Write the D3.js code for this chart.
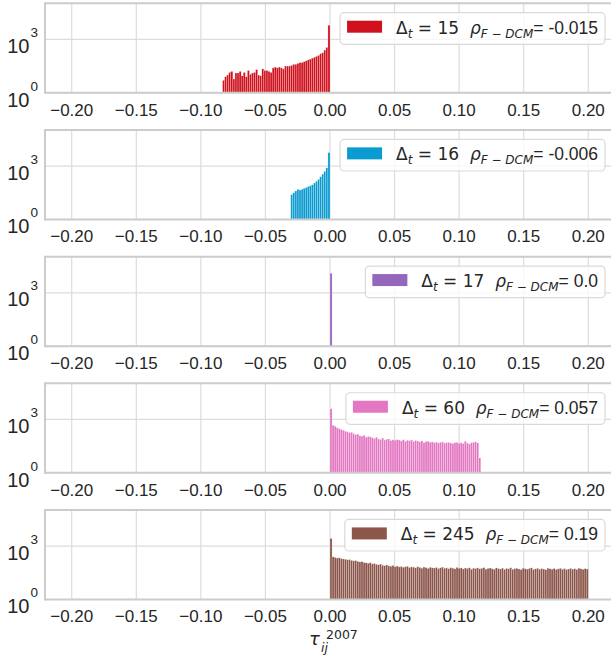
<!DOCTYPE html>
<html><head><meta charset="utf-8">
<script src="https://cdn.jsdelivr.net/npm/d3@7"></script>
<style>
html,body{margin:0;padding:0;background:#fff;}
svg text{white-space:pre;}
</style></head>
<body><svg id="chart" width="611" height="659"></svg>
<script>
// ---- data ----
const binWidth = 0.0016;
const deltaT = [15, 16, 17, 60, 245];
const rhoLabels = ["-0.015", "-0.006", "0.0", "0.057", "0.19"];
const colors = ["#d0121f", "#0a9bd0", "#9467bd", "#e377c2", "#8c564b"];
const firstEdge = [-0.0832, -0.0304, 0.0, 0.0, 0.0];
const counts15 = [5,8,10,14,16,6,13,13,16,9, 14,8,18,11,13,14,20,10,9,22,
  18,18,16,14,25,28,25,28,25,22, 32,32,32,35,40,40,45,50,50,56,
  63,71,79,89,100,112,126,158,178,251, 355,6310];
const counts16 = [25,32,40,50,45,50,56,63,71,79,89,112,141,178,251,355,501,794,5800];
const counts17 = [12600];
const counts60 = [4000,480,420,340,300,270,250,220,200,180, 190,160,140,150,120,115,130,100,110,105,
  95,85,100,80,75,90,70,78,80,65, 72,68,75,70,62,73,60,68,64,70,
  58,66,62,55,63,50,57,60,52,55, 50,53,48,52,55,47,50,52,48,45,
  50,52,46,49,44,60,47,42,50,52, 55,48,7];
const counts245 = [2700,250,230,215,220,200,190,185,170,175, 160,150,155,140,130,135,120,115,110,118,
  100,105,95,90,98,85,80,88,78,75, 82,70,76,68,72,65,70,74,63,68,
  66,60,71,64,58,67,62,56,65,60, 59,63,55,61,66,57,60,54,62,58,
  53,64,57,60,52,59,56,61,50,58, 55,60,53,57,62,51,56,59,54,50,
  60,55,52,58,49,56,53,61,50,55, 57,52,48,58,54,51,56,60,49,53,
  57,50,55,52,47,58,54,51,56,49, 53,57,50,55,48,52,56,51,54,49,
  58,53,50,55,52];
const seriesCounts = [counts15, counts16, counts17, counts60, counts245];
const xTicks = [-0.20, -0.15, -0.10, -0.05, 0.00, 0.05, 0.10, 0.15, 0.20];
const yTicks = [1, 1000];
const yTickExp = ["0", "3"];

// ---- layout ----
const svg = d3.select("#chart");
const sansFont = "'Liberation Sans', Arial, sans-serif";
const mathFont = "'DejaVu Sans', sans-serif";
const x = d3.scaleLinear().domain([-0.2207, 0.2207]).range([45, 615]);
const panelTop0 = 3.3, pitch = 126.68, panelH = 89.5;

seriesCounts.forEach((cnts, i) => {
  const top = panelTop0 + i * pitch, bottom = top + panelH;
  const y = d3.scaleLog().domain([1, Math.pow(10, 5.03)]).range([bottom, top]);
  const g = svg.append("g");

  // grid
  g.selectAll(".gx").data(xTicks).join("line")
    .attr("x1", d => x(d)).attr("x2", d => x(d))
    .attr("y1", top).attr("y2", bottom)
    .attr("stroke", "#dcdcdc").attr("stroke-width", 1.2);
  g.selectAll(".gy").data(yTicks).join("line")
    .attr("x1", x.range()[0]).attr("x2", x.range()[1])
    .attr("y1", d => y(d)).attr("y2", d => y(d))
    .attr("stroke", "#dcdcdc").attr("stroke-width", 1.2);

  // bars
  const bars = cnts.map((c, k) => ({x0: firstEdge[i] + k * binWidth, c}));
  g.selectAll(".bar").data(bars).join("rect")
    .attr("x", d => x(d.x0))
    .attr("width", d => x(d.x0 + binWidth) - x(d.x0))
    .attr("y", d => y(d.c))
    .attr("height", d => bottom - y(d.c))
    .attr("fill", colors[i])
    .attr("stroke", "#ffffff").attr("stroke-width", 0.35).attr("stroke-opacity", 0.7);

  // spines
  const sp = "#cccccc", sw = 2;
  g.append("line").attr("x1", 45).attr("x2", 615).attr("y1", top).attr("y2", top).attr("stroke", sp).attr("stroke-width", sw);
  g.append("line").attr("x1", 45).attr("x2", 615).attr("y1", bottom).attr("y2", bottom).attr("stroke", sp).attr("stroke-width", sw);
  g.append("line").attr("x1", 45).attr("x2", 45).attr("y1", top - 1).attr("y2", bottom + 1).attr("stroke", sp).attr("stroke-width", sw);

  // x tick labels
  g.selectAll(".xt").data(xTicks).join("text")
    .attr("x", d => x(d)).attr("y", bottom + 22.7)
    .attr("text-anchor", "middle")
    .attr("font-family", sansFont).attr("font-size", 17).attr("fill", "#262626")
    .text(d => d3.format(".2f")(d).replace("-", "\u2212"));

  // y tick labels
  yTicks.forEach((t, j) => {
    const tx = g.append("text").attr("x", 38).attr("y", y(t) + 13.7)
      .attr("text-anchor", "end").attr("font-family", sansFont).attr("fill", "#262626");
    tx.append("tspan").attr("font-size", 20).text("10");
    tx.append("tspan").attr("font-size", 13.5).attr("dx", 1).attr("dy", -16).text(yTickExp[j]);
  });

  // legend
  const lg = g.append("g");
  const boxTop = top + 9.4, boxH = 31.6, textEnd = 598, boxRight = 605;
  const box = lg.append("rect").attr("y", boxTop).attr("height", boxH)
    .attr("rx", 4).attr("fill", "#ffffff").attr("fill-opacity", 0.8)
    .attr("stroke", "#d9d9d9").attr("stroke-width", 1.2);
  const patch = lg.append("rect").attr("y", boxTop + 8).attr("height", 12).attr("width", 35)
    .attr("fill", colors[i]);
  const txt = lg.append("text").attr("y", boxTop + 20.8).attr("font-family", mathFont)
    .attr("font-size", 17).attr("fill", "#262626");
  txt.append("tspan").text("\u0394");
  txt.append("tspan").attr("font-style", "italic").attr("font-size", 12).attr("dy", 4).text("t");
  txt.append("tspan").attr("dy", -4).text(" = " + deltaT[i] + "\u00a0\u00a0");
  txt.append("tspan").attr("font-style", "italic").text("\u03c1");
  txt.append("tspan").attr("font-style", "italic").attr("font-size", 12).attr("dy", 4).text("F \u2212 DCM");
  txt.append("tspan").attr("dy", -4).attr("font-family", sansFont).attr("font-size", 17.5).text("= " + rhoLabels[i]);
  const len = txt.node().getComputedTextLength();
  const textStart = textEnd - len;
  txt.attr("x", textStart);
  patch.attr("x", textStart - 49);
  box.attr("x", textStart - 56).attr("width", boxRight - (textStart - 56));
});

// x-axis label
const xl = svg.append("g").attr("font-family", mathFont).attr("fill", "#262626");
xl.append("text").attr("x", 309).attr("y", 645).attr("font-size", 18).attr("font-style", "italic").text("\u03c4");
xl.append("text").attr("x", 321).attr("y", 652).attr("font-size", 12.5).attr("font-style", "italic").text("ij");
xl.append("text").attr("x", 326).attr("y", 638.5).attr("font-size", 12.5).text("2007");
</script>
</body></html>
